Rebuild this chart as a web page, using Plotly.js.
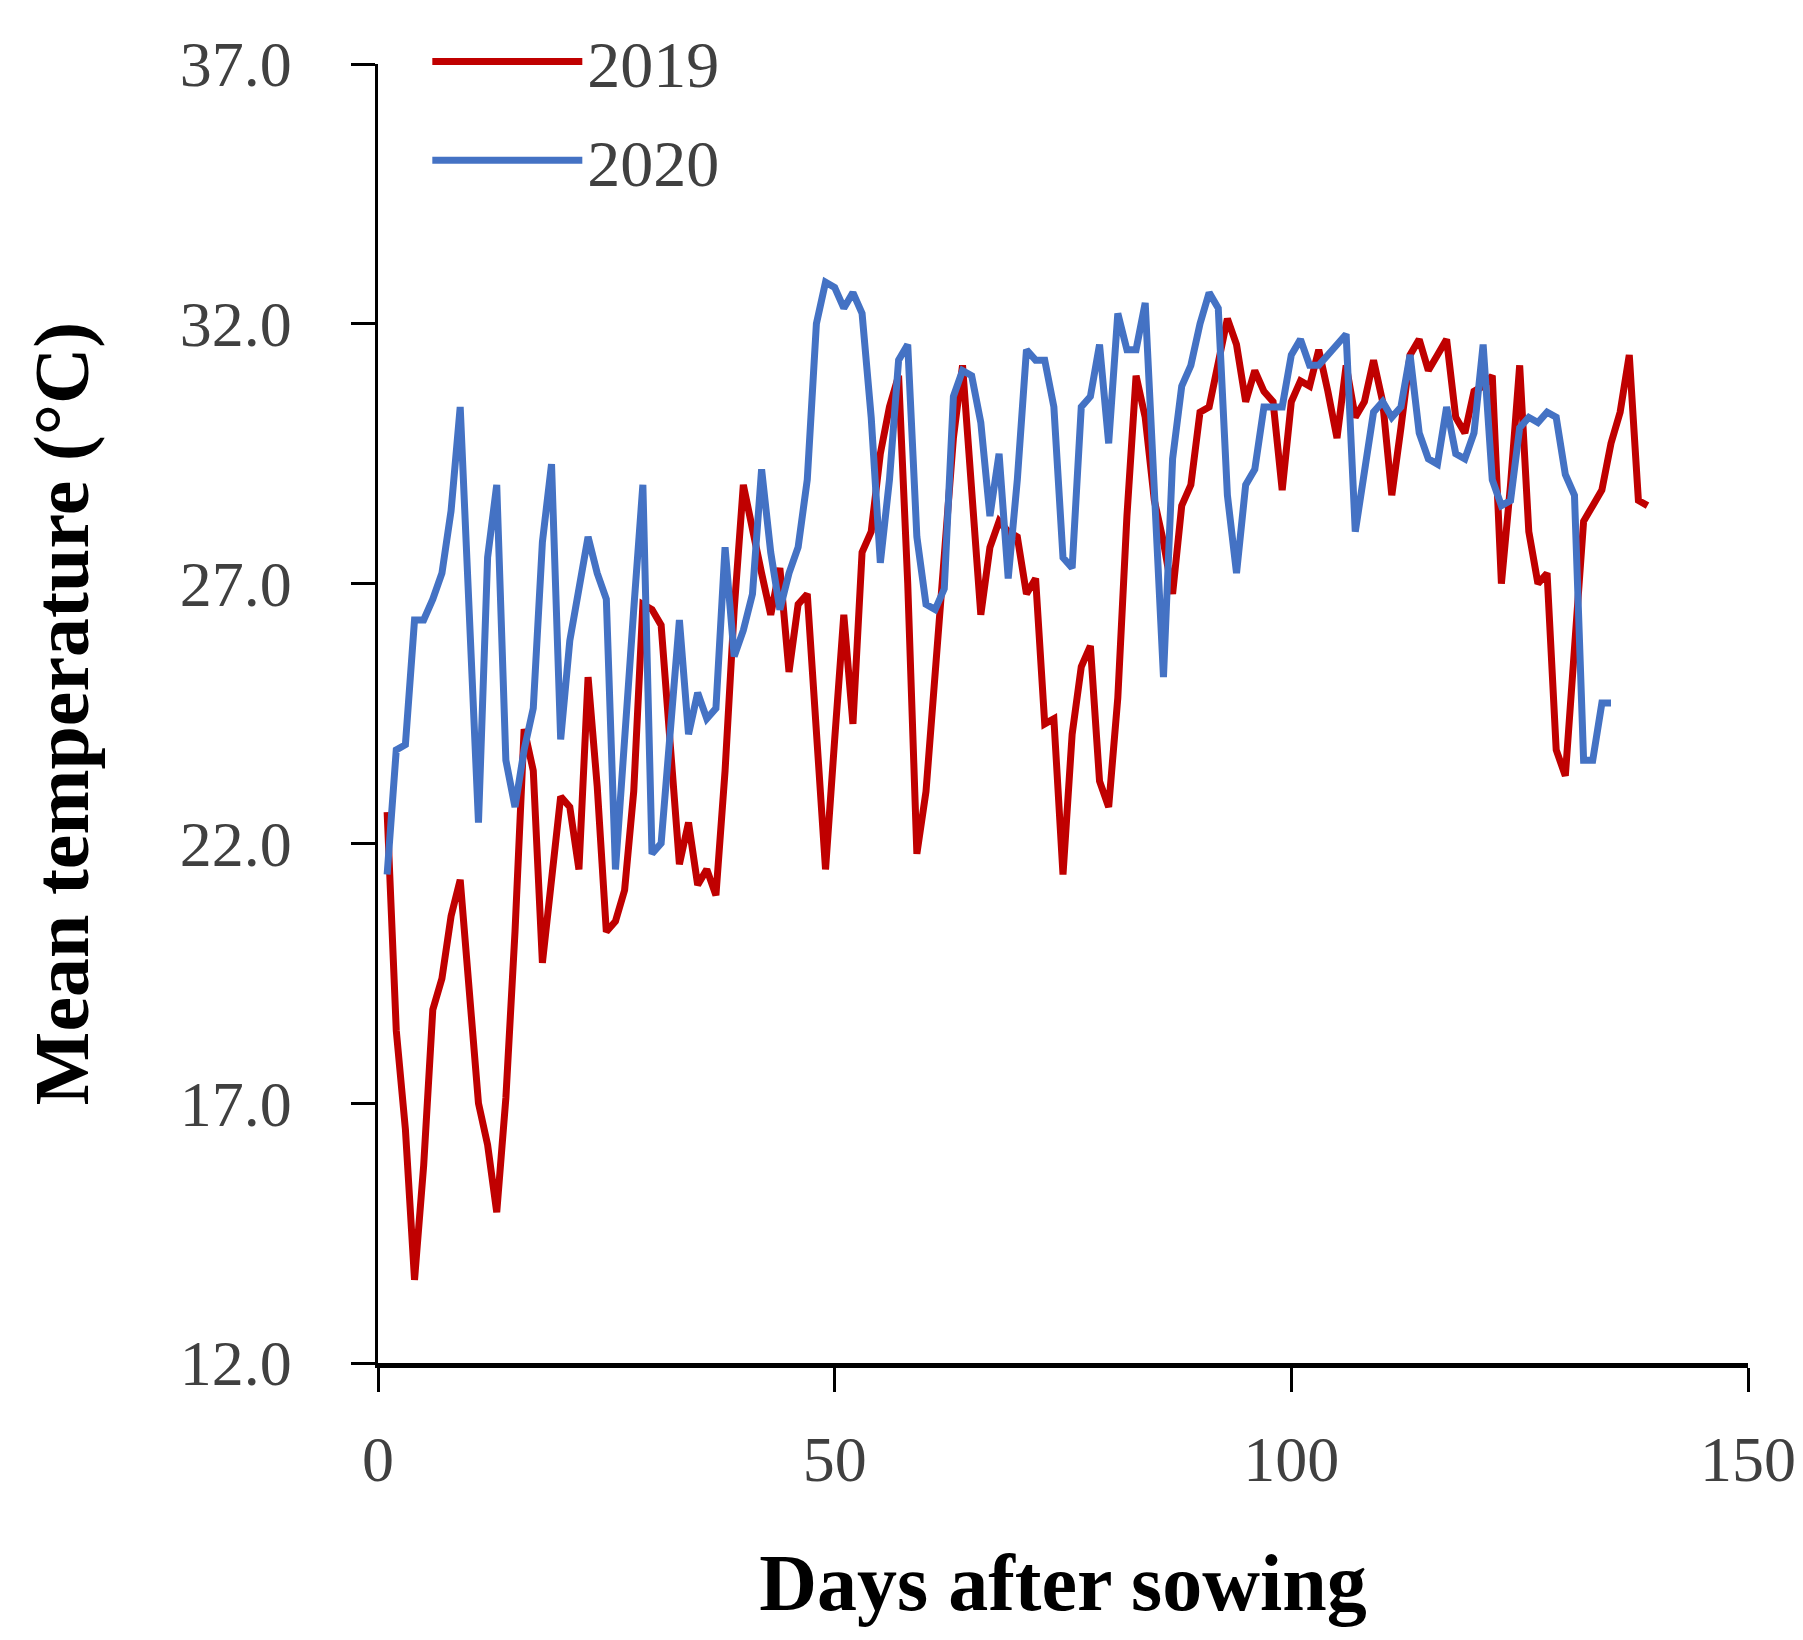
<!DOCTYPE html>
<html>
<head>
<meta charset="utf-8">
<script src="https://cdn.plot.ly/plotly-3.0.1.min.js"></script>
<style>
  html, body { margin: 0; padding: 0; background: #ffffff; }
  #chart { width: 1803px; height: 1640px; }
</style>
</head>
<body>
<div id="chart"></div>
<script>
// Mean daily temperature (°C) by day after sowing
const temp2019 = [
  22.6, 18.4, 16.5, 13.6, 15.8, 18.8, 19.4, 20.6, 21.3, 19.3,
  17.0, 16.2, 14.9, 17.1, 20.3, 24.2, 23.4, 19.7, 21.4, 22.9,
  22.7, 21.5, 25.2, 23.1, 20.3, 20.5, 21.1, 23.0, 26.6, 26.5,
  26.2, 23.8, 21.6, 22.4, 21.2, 21.5, 21.0, 23.4, 26.5, 28.9,
  28.0, 27.2, 26.4, 27.3, 25.3, 26.6, 26.8, 24.0, 21.5, 24.0,
  26.4, 24.3, 27.6, 28.0, 29.5, 30.4, 31.0, 27.0, 21.8, 23.0,
  25.4, 27.4, 29.8, 31.2, 29.0, 26.4, 27.7, 28.2, 28.0, 27.9,
  26.8, 27.1, 24.3, 24.4, 21.4, 24.1, 25.4, 25.8, 23.2, 22.7,
  24.8, 28.3, 31.0, 30.2, 28.6, 27.8, 26.8, 28.5, 28.9, 30.3,
  30.4, 31.3, 32.1, 31.6, 30.5, 31.1, 30.7, 30.5, 28.8, 30.5,
  30.9, 30.8, 31.5, 30.7, 29.8, 31.2, 30.2, 30.5, 31.3, 30.5,
  28.7, 30.0, 31.4, 31.7, 31.1, 31.4, 31.7, 30.2, 29.9, 30.7,
  30.8, 31.0, 27.0, 28.9, 31.2, 28.0, 27.0, 27.2, 23.8, 23.3,
  25.6, 28.2, 28.5, 28.8, 29.7, 30.3, 31.4, 28.6, 28.5
];
const temp2020 = [
  21.4, 23.8, 23.9, 26.3, 26.3, 26.7, 27.2, 28.4, 30.4, 26.4,
  22.4, 27.5, 28.9, 23.6, 22.7, 23.8, 24.6, 27.8, 29.3, 24.0,
  25.9, 26.9, 27.9, 27.2, 26.7, 21.5, 24.2, 26.5, 28.9, 21.8,
  22.0, 24.0, 26.3, 24.1, 24.9, 24.4, 24.6, 27.7, 25.6, 26.1,
  26.8, 29.2, 27.6, 26.5, 27.2, 27.7, 29.0, 32.0, 32.8, 32.7,
  32.3, 32.6, 32.2, 30.2, 27.4, 29.0, 31.3, 31.6, 27.9, 26.6,
  26.5, 26.9, 30.6, 31.1, 31.0, 30.1, 28.3, 29.5, 27.1, 29.0,
  31.5, 31.3, 31.3, 30.4, 27.5, 27.3, 30.4, 30.6, 31.6, 29.7,
  32.2, 31.5, 31.5, 32.4, 28.6, 25.2, 29.4, 30.8, 31.2, 32.0,
  32.6, 32.3, 28.7, 27.2, 28.9, 29.2, 30.4, 30.4, 30.4, 31.4,
  31.7, 31.2, 31.2, 31.4, 31.6, 31.8, 28.0, 29.2, 30.3, 30.5,
  30.2, 30.4, 31.4, 29.9, 29.4, 29.3, 30.4, 29.5, 29.4, 29.9,
  31.6, 29.0, 28.5, 28.6, 30.0, 30.2, 30.1, 30.3, 30.2, 29.1,
  28.7, 23.6, 23.6, 24.7, 24.7
];
// Day index for each reading (day 1 = first day after sowing)
const days2019 = temp2019.map((_, i) => i + 1);
const days2020 = temp2020.map((_, i) => i + 1);

const seriesNames = ["2019", "2020"];
const xTickVals = [0, 50, 100, 150];
const yTickVals = [12, 17, 22, 27, 32, 37];
const xTitle = "Days after sowing";
const yTitle = "Mean temperature (°C)";

const FONT = "'Liberation Serif', 'Times New Roman', serif";

const traces = [
  {
    x: days2019, y: temp2019, name: seriesNames[0], legendgroup: "a",
    type: "scatter", mode: "lines",
    line: { color: "#C00000", width: 7 }
  },
  {
    x: days2020, y: temp2020, name: seriesNames[1], legendgroup: "b",
    type: "scatter", mode: "lines",
    line: { color: "#4472C4", width: 7 }
  }
];

const layout = {
  width: 1803,
  height: 1640,
  paper_bgcolor: "#ffffff",
  plot_bgcolor: "#ffffff",
  margin: { l: 378, r: 55, t: 60, b: 277 },
  font: { family: FONT, color: "#404040" },
  showlegend: true,
  legend: {
    x: 0.036, xanchor: "left",
    y: 1.04, yanchor: "top",
    bgcolor: "rgba(0,0,0,0)",
    font: { family: FONT, size: 66, color: "#404040" },
    itemwidth: 150,
    tracegroupgap: 10,
    traceorder: "grouped"
  },
  xaxis: {
    range: [0, 150],
    tickvals: xTickVals,
    ticks: "outside", ticklen: 24, tickwidth: 3, tickcolor: "#000000",
    ticklabelstandoff: 12,
    showline: true, linecolor: "#000000", linewidth: 5,
    showgrid: false, zeroline: false,
    tickfont: { family: FONT, size: 64, color: "#404040" },
    title: {
      text: xTitle,
      font: { family: FONT, size: 80, color: "#000000", weight: "bold" },
      standoff: 62
    }
  },
  yaxis: {
    range: [12, 37],
    tickvals: yTickVals,
    tickformat: ".1f",
    ticks: "outside", ticklen: 24, tickwidth: 3, tickcolor: "#000000",
    ticklabelstandoff: 46,
    showline: true, linecolor: "#000000", linewidth: 3.5,
    showgrid: false, zeroline: false,
    tickfont: { family: FONT, size: 64, color: "#404040" },
    title: {
      text: yTitle,
      font: { family: FONT, size: 78, color: "#000000", weight: "bold" },
      standoff: 66
    }
  }
};

Plotly.newPlot("chart", traces, layout, { displayModeBar: false, staticPlot: true });
</script>
</body>
</html>
